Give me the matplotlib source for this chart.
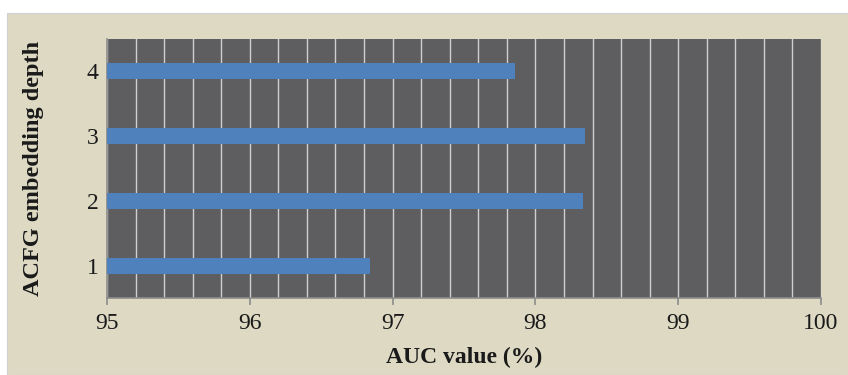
import matplotlib.pyplot as plt
from matplotlib.patches import Rectangle
from matplotlib.ticker import MultipleLocator

depths = [1, 2, 3, 4]
auc = [96.84, 98.33, 98.35, 97.86]
xticks = [95, 96, 97, 98, 99, 100]

plt.rcParams['font.family'] = ['Liberation Serif', 'DejaVu Serif']

fig = plt.figure(figsize=(8.48, 3.75), dpi=100)
fig.patch.set_facecolor('white')

# beige panel behind the chart, leaving a thin white strip at top and left
W, H = 848, 375
fig.patches.append(Rectangle((7 / W, 0), 1 - 7 / W, (H - 13) / H,
                             transform=fig.transFigure, facecolor='#DDD9C3',
                             edgecolor='#D0D0D0', linewidth=0.8, zorder=-10))

ax = fig.add_axes([107 / W, 1 - 298 / H, (821 - 107) / W, (298 - 39) / H])
ax.set_facecolor('#5E5E60')

ax.barh(depths, [v - 95 for v in auc], left=95, height=0.25,
        color='#4F81BD', zorder=3)

ax.set_xlim(95, 100)
ax.set_ylim(0.5, 4.5)
ax.set_xticks(xticks)
ax.xaxis.set_minor_locator(MultipleLocator(0.2))
ax.set_yticks(depths)
ax.grid(True, which='both', axis='x', color='#CFCFCF', linewidth=1.0, zorder=1)

for side in ['top', 'right']:
    ax.spines[side].set_visible(False)
for side in ['bottom', 'left']:
    ax.spines[side].set_color('#8C8C8C')
    ax.spines[side].set_linewidth(1.2)

ax.tick_params(axis='x', which='major', length=5, color='#8C8C8C', width=1.2,
               labelsize=17, colors='#8C8C8C', labelcolor='#1A1A1A', pad=6)
ax.tick_params(axis='x', which='minor', length=0)
ax.tick_params(axis='y', length=0, labelsize=17, labelcolor='#1A1A1A', pad=6)

ax.set_xlabel('AUC value (%)', fontsize=17, fontweight='bold', color='#1A1A1A', labelpad=9)
ax.set_ylabel('ACFG embedding depth', fontsize=17.5, fontweight='bold', color='#1A1A1A', labelpad=31)

fig.savefig('out.png', dpi=100)
